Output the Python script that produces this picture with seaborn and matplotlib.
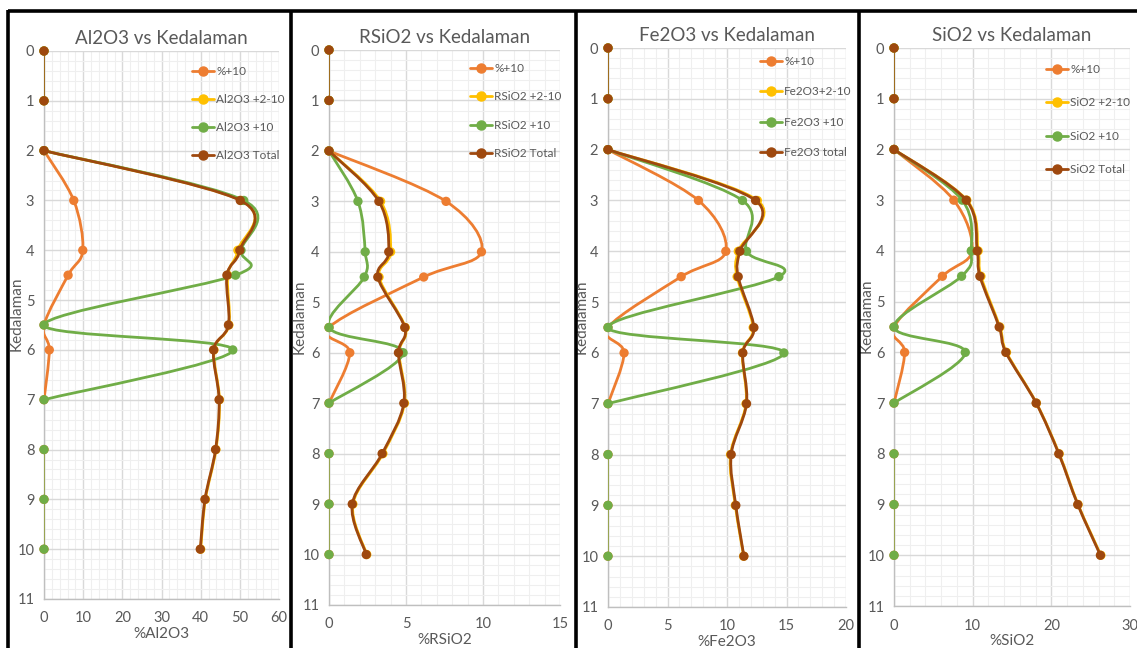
import matplotlib
matplotlib.use("Agg")
import matplotlib.pyplot as plt
from matplotlib.path import Path
from matplotlib.patches import PathPatch
from matplotlib.lines import Line2D
from matplotlib.ticker import MultipleLocator
import numpy as np
import pandas as pd
import seaborn as sns

# ---------------- data ----------------
depths = [0, 1, 2, 3, 4, 4.5, 5.5, 6, 7, 8, 9, 10]
pct_plus10 = [0, 0, 0, 7.6, 9.9, 6.15, 0, 1.35, 0, 0, 0, 0]

al_2_10 = [0, 0, 0, 50.3, 49.5, 46.9, 47.2, 43.4, 44.8, 43.9, 41.2, 40.0]
al_10 = [0, 0, 0, 51.0, 50.3, 48.9, 0, 48.2, 0, 0, 0, 0]
al_total = [0, 0, 0, 50.1, 50.0, 46.7, 47.1, 43.3, 44.7, 43.8, 41.1, 39.9]

rsi_2_10 = [0, 0, 0, 3.35, 4.0, 3.25, 4.95, 4.55, 4.9, 3.5, 1.55, 2.45]
rsi_10 = [0, 0, 0, 1.88, 2.35, 2.29, 0, 4.81, 0, 0, 0, 0]
rsi_total = [0, 0, 0, 3.24, 3.88, 3.17, 4.92, 4.51, 4.86, 3.45, 1.51, 2.42]

fe_2_10 = [0, 0, 0, 12.55, 10.95, 10.85, 12.2, 11.3, 11.6, 10.3, 10.7, 11.4]
fe_10 = [0, 0, 0, 11.3, 11.64, 14.36, 0, 14.78, 0, 0, 0, 0]
fe_total = [0, 0, 0, 12.4, 11.08, 10.94, 12.26, 11.33, 11.64, 10.35, 10.74, 11.42]

si_2_10 = [0, 0, 0, 9.25, 10.7, 11.05, 13.45, 14.3, 18.1, 21.0, 23.4, 26.3]
si_10 = [0, 0, 0, 8.68, 9.82, 8.59, 0, 9.06, 0, 0, 0, 0]
si_total = [0, 0, 0, 9.18, 10.58, 10.92, 13.37, 14.22, 18.07, 20.95, 23.36, 26.24]

titles = ["Al2O3 vs Kedalaman", "RSiO2 vs Kedalaman", "Fe2O3 vs Kedalaman", "SiO2 vs Kedalaman"]
xlabels = ["%Al2O3", "%RSiO2", "%Fe2O3", "%SiO2"]
legend_labels = [
    ["%+10", "Al2O3 +2-10", "Al2O3 +10", "Al2O3 Total"],
    ["%+10", "RSiO2 +2-10", "RSiO2 +10", "RSiO2 Total"],
    ["%+10", "Fe2O3+2-10", "Fe2O3 +10", "Fe2O3 total"],
    ["%+10", "SiO2 +2-10", "SiO2 +10", "SiO2 Total"],
]
panel_series = [
    [pct_plus10, al_2_10, al_10, al_total],
    [pct_plus10, rsi_2_10, rsi_10, rsi_total],
    [pct_plus10, fe_2_10, fe_10, fe_total],
    [pct_plus10, si_2_10, si_10, si_total],
]
xmax = [60, 15, 20, 30]
xmajor = [10, 5, 5, 10]
xminor = [2, 1, 1, 2]

# ---------------- style ----------------
sns.set_theme(style="white")
plt.rcParams["font.family"] = ["Lato", "DejaVu Sans"]
TXT = "#595959"
colors = ["#ED7D31", "#FFC000", "#70AD47", "#9E480E"]

W, H = 1137, 648
fig = plt.figure(figsize=(W / 100, H / 100), dpi=100)
fig.patch.set_facecolor("white")

# axes rectangles in pixels: left, right, top, bottom
rects = [(44, 279, 51, 599), (329, 560, 50, 605), (608, 846, 48, 607), (894, 1130, 48, 606)]
# legend: handle-left x, first-entry center y, row spacing (labelspacing)
leg_pos = [(192, 72, 1.44), (470, 69, 1.48), (760, 62, 1.65), (1046, 70, 1.9)]
ylabel_x = [24, 307, 589, 874]


def smooth_path(xs, ys):
    pts = np.column_stack([xs, ys]).astype(float)
    n = len(pts)
    verts = [pts[0]]
    codes = [Path.MOVETO]
    for i in range(n - 1):
        p0 = pts[i - 1] if i > 0 else pts[i]
        p1 = pts[i]
        p2 = pts[i + 1]
        p3 = pts[i + 2] if i + 2 < n else pts[i + 1]
        c1 = p1 + (p2 - p0) / 6.0
        c2 = p2 - (p3 - p1) / 6.0
        verts += [c1, c2, p2]
        codes += [Path.CURVE4] * 3
    return Path(verts, codes)


def draw_segment(ax, vals, i0, i1, color, lw, z):
    xs = vals[i0:i1 + 1]
    ys = depths[i0:i1 + 1]
    patch = PathPatch(smooth_path(xs, ys), facecolor="none", edgecolor=color,
                      lw=lw, zorder=z, capstyle="round", joinstyle="round")
    ax.add_patch(patch)


for k in range(4):
    l, r, t, b = rects[k]
    ax = fig.add_axes([l / W, 1 - b / H, (r - l) / W, (b - t) / H])
    ax.set_facecolor("white")
    ax.set_xlim(0, xmax[k])
    ax.set_ylim(11, 0)
    ax.xaxis.set_major_locator(MultipleLocator(xmajor[k]))
    ax.xaxis.set_minor_locator(MultipleLocator(xminor[k]))
    ax.yaxis.set_major_locator(MultipleLocator(1))
    ax.yaxis.set_minor_locator(MultipleLocator(0.2))
    ax.grid(which="major", color="#d9d9d9", lw=1.0, zorder=0)
    ax.grid(which="minor", color="#efefef", lw=0.8, zorder=0)
    ax.set_axisbelow(True)
    for s in ["top", "right"]:
        ax.spines[s].set_visible(False)
    for s in ["left", "bottom"]:
        ax.spines[s].set_color("#bfbfbf")
        ax.spines[s].set_linewidth(1.0)
    ax.tick_params(axis="both", which="both", length=0, labelsize=10.5, colors=TXT, pad=7)
    ax.tick_params(axis="x", pad=9)

    series = panel_series[k]
    for j, vals in enumerate(series):
        c = colors[j]
        z = 3 + j
        draw_segment(ax, vals, 0, 1, c, 0.9, z)
        if j in (0, 2):
            draw_segment(ax, vals, 2, 8, c, 2.0, z)
            draw_segment(ax, vals, 9, 11, c, 0.9, z)
        else:
            draw_segment(ax, vals, 2, 11, c, 2.0, z)
        df = pd.DataFrame({"val": vals, "depth": depths})
        sns.scatterplot(data=df, x="val", y="depth", ax=ax, color=c, s=45,
                        edgecolor="none", linewidth=0, zorder=z + 0.5, legend=False,
                        clip_on=False)

    ax.set_xlabel(xlabels[k], color=TXT, fontsize=11, labelpad=1)
    ax.set_ylabel("Kedalaman", color=TXT, fontsize=11)
    ax.yaxis.set_label_coords((ylabel_x[k] - l) / (r - l), 0.52)
    ax.set_title(titles[k], color=TXT, fontsize=13.5, pad=5)

    handles = [Line2D([], [], color=c, lw=2, marker="o", markersize=6.5) for c in colors]
    hx, hy, sp = leg_pos[k]
    ax.legend(handles, legend_labels[k], loc="upper left", frameon=False,
              bbox_to_anchor=(hx / W, 1 - (hy - 6) / H), bbox_transform=fig.transFigure,
              borderpad=0, borderaxespad=0, handlelength=1.9, handletextpad=0.15,
              labelspacing=sp, fontsize=8.5, labelcolor=TXT)

# panel borders
border_kw = dict(color="black", lw=2.6, transform=fig.transFigure, solid_capstyle="butt")
fig.add_artist(Line2D([8 / W, 1], [1 - 11 / H, 1 - 11 / H], **border_kw))
for xp in [8, 291, 576, 859]:
    fig.add_artist(Line2D([xp / W, xp / W], [0, 1 - 10 / H], **border_kw))

fig.savefig("out.png", dpi=100, facecolor="white")
